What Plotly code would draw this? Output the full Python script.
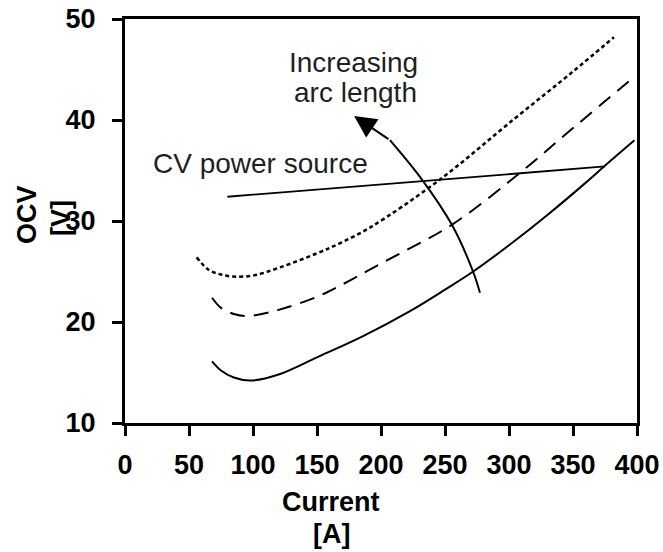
import plotly.graph_objects as go

# ---- data ----
solid_x = [68, 75, 85, 98, 120, 150, 186, 223, 250, 272, 300, 330, 360, 376, 398]
solid_y = [16.1, 15.2, 14.5, 14.2, 14.8, 16.5, 18.6, 21.1, 23.2, 25.0, 27.6, 30.6, 33.8, 35.6, 38.0]

dashed_x = [68, 75, 85, 96, 120, 150, 168, 200, 255, 307, 350, 398]
dashed_y = [22.4, 21.4, 20.8, 20.6, 21.2, 22.5, 23.6, 25.8, 29.6, 34.6, 39.2, 44.3]

dotted_x = [56, 65, 75, 85, 100, 121, 150, 168, 192, 246, 304, 350, 382]
dotted_y = [26.4, 25.2, 24.7, 24.5, 24.6, 25.4, 26.8, 27.8, 29.4, 34.1, 40.1, 44.8, 48.2]

cv_x = [80, 375]
cv_y = [32.4, 35.4]

arrow_x = [277.3, 271.9, 255.5, 232.0, 207.0]
arrow_y = [22.9, 25.0, 29.6, 34.1, 38.0]
arrow_tip = (179.0, 40.4)

x_ticks = [0, 50, 100, 150, 200, 250, 300, 350, 400]
y_ticks = [10, 20, 30, 40, 50]

FONT = "Liberation Sans, Arial, sans-serif"
TXT = "#1f1f1f"

W, H = 663, 552

fig = go.Figure()
line_common = dict(color="black", shape="spline", smoothing=1.0)
fig.add_trace(go.Scatter(x=solid_x, y=solid_y, mode="lines",
                         line=dict(width=2, **line_common), hoverinfo="skip"))
fig.add_trace(go.Scatter(x=dashed_x, y=dashed_y, mode="lines",
                         line=dict(width=2, dash="15px,9px", **line_common), hoverinfo="skip"))
fig.add_trace(go.Scatter(x=dotted_x, y=dotted_y, mode="lines",
                         line=dict(width=2.5, dash="4px,3px", **line_common), hoverinfo="skip"))
fig.add_trace(go.Scatter(x=cv_x, y=cv_y, mode="lines",
                         line=dict(width=1.8, color="black"), hoverinfo="skip"))
fig.add_trace(go.Scatter(x=arrow_x, y=arrow_y, mode="lines",
                         line=dict(width=2, color="black", shape="spline"), hoverinfo="skip"))

annotations = [
    dict(x=arrow_tip[0], y=arrow_tip[1], ax=arrow_x[-1], ay=arrow_y[-1],
         xref="x", yref="y", axref="x", ayref="y", text="", showarrow=True,
         arrowhead=2, arrowsize=2.2, arrowwidth=2, arrowcolor="black"),
    dict(x=105.5, y=35.7, xref="x", yref="y", text="CV power source", showarrow=False,
         font=dict(family=FONT, size=28, color=TXT)),
    dict(x=178.5, y=45.7, xref="x", yref="y", text="Increasing", showarrow=False,
         font=dict(family=FONT, size=28, color=TXT)),
    dict(x=179.7, y=42.7, xref="x", yref="y", text="arc length", showarrow=False,
         font=dict(family=FONT, size=28, color=TXT)),
    dict(x=161, y=0, xref="x", yref="paper", yanchor="middle", yshift=-79,
         text="Current", showarrow=False,
         font=dict(family=FONT, size=27, color="black", weight="bold")),
    dict(x=161, y=0, xref="x", yref="paper", yanchor="middle", yshift=-111,
         text="[A]", showarrow=False,
         font=dict(family=FONT, size=27, color="black", weight="bold")),
    dict(x=0, y=0.5, xref="paper", yref="paper", xanchor="center", xshift=-98, yshift=6,
         text="OCV", textangle=-90, showarrow=False,
         font=dict(family=FONT, size=27, color="black", weight="bold")),
    dict(x=0, y=0.5, xref="paper", yref="paper", xanchor="center", xshift=-64, yshift=3,
         text="[V]", textangle=-90, showarrow=False,
         font=dict(family=FONT, size=27, color="black", weight="bold")),
]

axis_common = dict(showline=True, linecolor="black", linewidth=3, mirror=True,
                   ticks="outside", ticklen=10, tickwidth=2.5, tickcolor="black",
                   showgrid=False, zeroline=False, ticklabeloverflow="allow",
                   tickfont=dict(family=FONT, size=27, color="black", weight="bold"))

fig.update_layout(
    width=W, height=H,
    margin=dict(l=125, r=26, t=19, b=129, autoexpand=False),
    paper_bgcolor="white", plot_bgcolor="white",
    showlegend=False,
    xaxis=dict(range=[0, 400], tickvals=x_ticks, ticklabelstandoff=6, **axis_common),
    yaxis=dict(range=[10, 50], tickvals=y_ticks, ticklabelstandoff=11, **axis_common),
    annotations=annotations,
)

# remove the default 8px page margin so the figure fills the window exactly
fig.write_html("out.html",
               config={"displayModeBar": False},
               post_script="document.body.style.margin='0';document.body.style.overflow='hidden';")
